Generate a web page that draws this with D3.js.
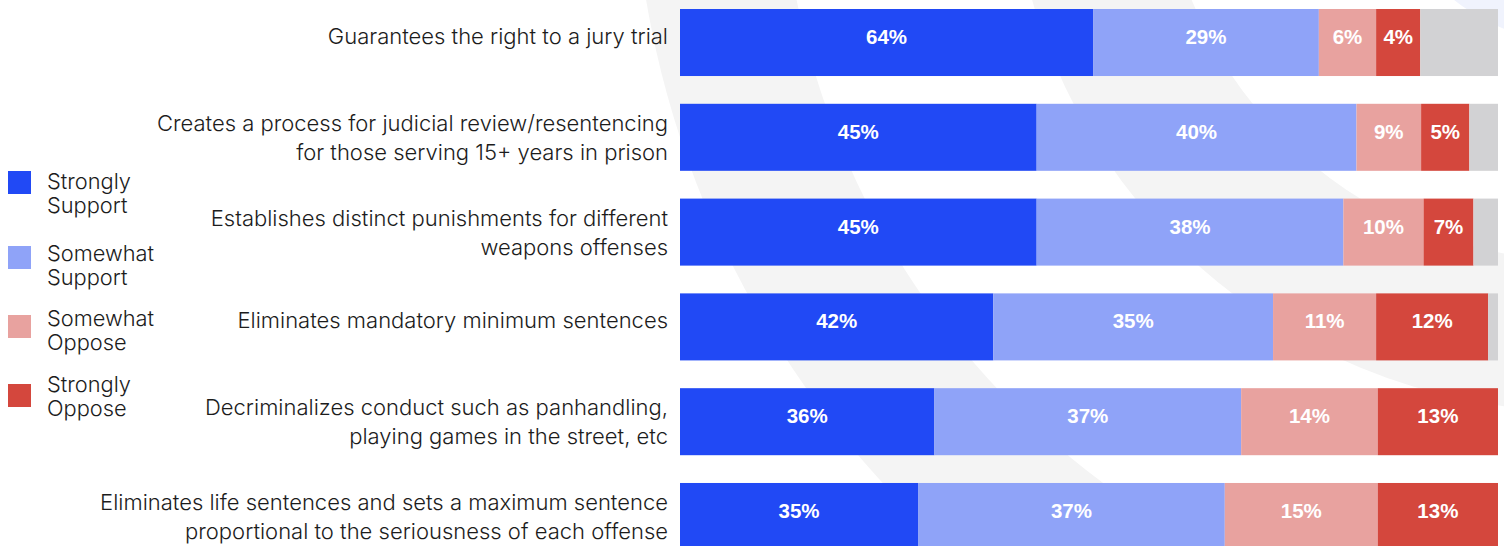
<!DOCTYPE html>
<html>
<head>
<meta charset="utf-8">
<script src="https://cdn.jsdelivr.net/npm/d3@7"></script>
<style>
  html, body { margin: 0; padding: 0; background: #ffffff; }
  svg { display: block; }
</style>
</head>
<body>
<svg id="chart" width="1504" height="546"></svg>
<script>
// ---------- data ----------
const categories = [
  "Guarantees the right to a jury trial",
  "Creates a process for judicial review/resentencing\nfor those serving 15+ years in prison",
  "Establishes distinct punishments for different\nweapons offenses",
  "Eliminates mandatory minimum sentences",
  "Decriminalizes conduct such as panhandling,\nplaying games in the street, etc",
  "Eliminates life sentences and sets a maximum sentence\nproportional to the seriousness of each offense"
];
const seriesKeys = ["Strongly Support", "Somewhat Support", "Somewhat Oppose", "Strongly Oppose", "No answer"];
// segment lengths as drawn (share of bar)
const stronglySupport = [50.5, 43.6, 43.6, 38.3, 31.1, 29.1];
const somewhatSupport = [27.6, 39.1, 37.5, 34.2, 37.5, 37.5];
const somewhatOppose  = [7.0, 7.9, 9.8, 12.6, 16.7, 18.7];
const stronglyOppose  = [5.4, 5.9, 6.1, 13.7, 14.7, 14.7];
const noAnswer        = [9.5, 3.5, 3.0, 1.2, 0, 0];
// printed labels
const labelStronglySupport = [64, 45, 45, 42, 36, 35];
const labelSomewhatSupport = [29, 40, 38, 35, 37, 37];
const labelSomewhatOppose  = [6, 9, 10, 11, 14, 15];
const labelStronglyOppose  = [4, 5, 7, 12, 13, 13];
const legendLabels = ["Strongly\nSupport", "Somewhat\nSupport", "Somewhat\nOppose", "Strongly\nOppose"];

// ---------- styles ----------
const colors = ["#2149f5", "#8fa3f8", "#e8a29f", "#d4473d", "#d2d2d4"];
const labelFont = "Inter, 'Liberation Sans', Arial, sans-serif";
const valueFont = "'Liberation Sans', Arial, Helvetica, sans-serif";

const svg = d3.select("#chart");

// background decoration (concentric rings)
const deco = svg.append("g").attr("transform", "translate(1578,-157)");
deco.append("circle").attr("r", 200).attr("fill", "#f0f3fd");
const ringArc = d3.arc().startAngle(0).endAngle(2 * Math.PI);
deco.append("path").attr("d", ringArc({innerRadius: 417, outerRadius: 568})).attr("fill", "#f4f4f4");
deco.append("path").attr("d", ringArc({innerRadius: 797, outerRadius: 945})).attr("fill", "#f4f4f4");

// table
const table = categories.map((c, i) => ({
  category: c,
  "Strongly Support": stronglySupport[i],
  "Somewhat Support": somewhatSupport[i],
  "Somewhat Oppose": somewhatOppose[i],
  "Strongly Oppose": stronglyOppose[i],
  "No answer": noAnswer[i]
}));
const labelTable = [labelStronglySupport, labelSomewhatSupport, labelSomewhatOppose, labelStronglyOppose];

const x = d3.scaleLinear().domain([0, 100]).range([680, 1498]);
const y = d3.scaleBand().domain(categories).range([9, 550]).paddingInner(0.293).paddingOuter(0);

const stacked = d3.stack().keys(seriesKeys)(table);

const layers = svg.append("g").selectAll("g.layer")
  .data(stacked).join("g").attr("class", "layer")
  .attr("fill", (d, i) => colors[i]);

layers.selectAll("rect")
  .data(d => d.map(v => ({v, key: d.key})))
  .join("rect")
  .attr("x", d => x(d.v[0]))
  .attr("y", d => y(d.v.data.category))
  .attr("width", d => Math.max(0, x(d.v[1]) - x(d.v[0])))
  .attr("height", y.bandwidth());

// value labels
const labG = svg.append("g");
stacked.slice(0, 4).forEach((layer, li) => {
  labG.selectAll(null)
    .data(layer)
    .join("text")
    .attr("x", d => (x(d[0]) + x(d[1])) / 2)
    .attr("y", d => y(d.data.category) + y.bandwidth() / 2 + 1.5)
    .attr("text-anchor", "middle")
    .style("fill", "#ffffff")
    .style("font-family", valueFont)
    .style("font-weight", "bold")
    .style("font-size", "20.5px")
    .text((d, i) => labelTable[li][i] + "%");
});

// category labels (axis)
const axis = d3.axisLeft(y).tickSize(0).tickPadding(0);
const axG = svg.append("g").attr("transform", "translate(668,0)").call(axis);
axG.select(".domain").remove();
axG.attr("font-family", null).attr("font-size", null);
axG.selectAll(".tick text").each(function(d) {
  const t = d3.select(this);
  const lines = d.split("\n");
  t.text(null)
    .attr("dy", null)
    .attr("y", 0)
    .attr("text-anchor", "end")
    .style("fill", "#1c1c1c")
    .style("font-size", "22px")
    .style("font-weight", "300")
    .style("font-family", labelFont);
  if (lines.length === 1) {
    t.append("tspan").attr("x", 0).attr("y", 1.5).text(lines[0]);
  } else {
    t.append("tspan").attr("x", 0).attr("y", -6.5).text(lines[0]);
    t.append("tspan").attr("x", 0).attr("y", 22.5).text(lines[1]);
  }
});

// legend
const legendTops = [171, 246, 315, 384];
const legendTextBase = [189, 261, 326, 392];
const lg = svg.append("g");
legendLabels.forEach((lab, i) => {
  lg.append("rect").attr("x", 8).attr("y", legendTops[i]).attr("width", 23).attr("height", 23).attr("fill", colors[i]);
  const t = lg.append("text")
    .style("fill", "#1c1c1c")
    .style("font-size", "21.8px")
    .style("font-weight", "300")
    .style("font-family", labelFont);
  lab.split("\n").forEach((ln, j) => {
    t.append("tspan").attr("x", 47).attr("y", legendTextBase[i] + j * 24).text(ln);
  });
});
</script>
</body>
</html>
